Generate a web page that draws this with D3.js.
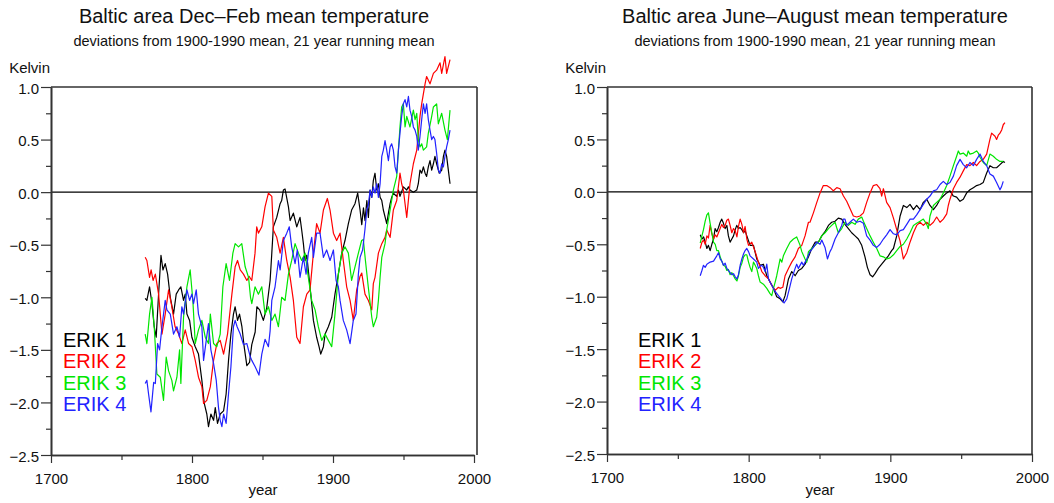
<!DOCTYPE html>
<html>
<head>
<meta charset="utf-8">
<script src="https://cdn.jsdelivr.net/npm/d3@7"></script>
<style>
  html, body { margin: 0; padding: 0; background: #fff; }
  svg { display: block; }
  text { font-family: "Liberation Sans", Arial, sans-serif; }
</style>
</head>
<body>
<svg id="chart" width="1054" height="503"></svg>
<script>
// ---------------- DATA ----------------
const seriesNames = ["ERIK 1", "ERIK 2", "ERIK 3", "ERIK 4"];
const xTickValues = [1700, 1800, 1900, 2000];
const xMinorTicks = [1750, 1850, 1950];
const yTickValues = [1.0, 0.5, 0.0, -0.5, -1.0, -1.5, -2.0, -2.5];
const yMinorTicks = [0.75, 0.25, -0.25, -0.75, -1.25, -1.75, -2.25];
const winterTitle = "Baltic area Dec\u2013Feb mean temperature";
const summerTitle = "Baltic area June\u2013August mean temperature";
const subTitle = "deviations from 1900-1990 mean, 21 year running mean";

// Winter (Dec–Feb), [year, deviation K]
const winterErik1 = [[1766.8,-1.01],[1768,-1.03],[1769.9,-0.90],[1771.6,-1.06],[1773.2,-1.28],[1774.6,-1.38],[1776.3,-0.97],[1778,-0.60],[1779.4,-0.74],[1781,-0.68],[1782.7,-0.78],[1784.6,-1.00],[1786.9,-1.16],[1788.8,-0.97],[1790.5,-0.93],[1792.1,-0.90],[1794,-1.03],[1795.2,-0.97],[1796.4,-1.16],[1798.3,-1.22],[1799.9,-1.38],[1802.3,-1.47],[1804.6,-1.54],[1807,-1.79],[1808.7,-2.01],[1810.5,-2.11],[1811.7,-2.23],[1813.4,-2.11],[1815.3,-2.17],[1816.5,-2.05],[1818.1,-2.20],[1820,-2.11],[1822.4,-2.08],[1824.2,-1.92],[1825.9,-1.60],[1827.6,-1.35],[1829.4,-1.16],[1830.6,-1.09],[1832.3,-1.22],[1833.7,-1.16],[1835.4,-1.28],[1837,-1.47],[1838.9,-1.65],[1840.8,-1.62],[1842.4,-1.45],[1844.8,-1.33],[1846,-1.09],[1848,-1.12],[1850.6,-1.22],[1853,-1.10],[1855.4,-0.84],[1856.6,-0.58],[1857.7,-0.33],[1860.1,-0.24],[1862.5,-0.11],[1863.6,-0.08],[1864.8,0.02],[1866,0.03],[1868.4,-0.14],[1869.6,-0.27],[1871.9,-0.20],[1874.3,-0.33],[1876.6,-0.24],[1877.8,-0.36],[1879,-0.49],[1880.2,-0.65],[1881.4,-0.60],[1883.7,-0.90],[1886.1,-1.22],[1888.4,-1.38],[1890.1,-1.47],[1891.3,-1.54],[1893.2,-1.47],[1894.4,-1.35],[1896.7,-1.28],[1899.1,-1.19],[1901.4,-0.97],[1903.8,-0.78],[1906.2,-0.58],[1908.5,-0.46],[1910.9,-0.30],[1913.2,-0.17],[1915.6,-0.11],[1917.5,-0.01],[1919.2,-0.17],[1920.4,-0.31],[1921.6,-0.15],[1922.7,-0.27],[1924,-0.08],[1925.1,-0.24],[1926.3,0.02],[1927.5,-0.05],[1928.6,0.11],[1929.8,0.18],[1931,0.02],[1932.2,0.08],[1933.4,-0.05],[1934.6,-0.08],[1935.7,-0.17],[1938.1,-0.30],[1939.3,-0.20],[1940.5,-0.11],[1941.6,-0.05],[1942.8,-0.01],[1945.2,-0.04],[1946.4,0.02],[1947.5,-0.04],[1949.9,0.05],[1952.3,0.02],[1953.5,0.05],[1954.6,0.02],[1957,0.00],[1959.4,0.02],[1960.5,0.08],[1961.7,0.21],[1962.9,0.18],[1964.1,0.24],[1965.3,0.18],[1966.4,0.15],[1967.6,0.24],[1968.8,0.30],[1970,0.21],[1971.2,0.27],[1972.3,0.34],[1973.5,0.27],[1975.4,0.18],[1977.1,0.21],[1978.3,0.34],[1979.4,0.40],[1980.6,0.34],[1981.8,0.21],[1983,0.08]];
const winterErik2 = [[1766.8,-0.62],[1768,-0.65],[1769.9,-0.81],[1771,-0.74],[1772.4,-0.84],[1774,-0.78],[1776.3,-0.97],[1778.7,-1.35],[1781,-1.16],[1783.4,-0.93],[1785.7,-1.09],[1788,-1.28],[1790.5,-1.35],[1792.8,-1.44],[1795.2,-1.31],[1797.6,-1.44],[1800,-1.47],[1802.3,-1.60],[1804.6,-1.76],[1807,-1.85],[1808.2,-2.01],[1810.5,-1.98],[1813,-1.85],[1815.3,-1.60],[1817.6,-1.44],[1820,-1.41],[1822.4,-1.54],[1825.2,-1.35],[1828.3,-0.97],[1830.6,-0.71],[1832.3,-0.65],[1834.2,-0.74],[1836.5,-0.78],[1838.9,-0.84],[1840.5,-0.80],[1842.4,-0.84],[1844.7,-0.58],[1845.9,-0.33],[1847.1,-0.39],[1849.5,-0.33],[1851.8,-0.14],[1854.2,-0.01],[1856.6,-0.04],[1857.7,-0.36],[1860.1,-0.43],[1862.5,-0.58],[1864.8,-0.43],[1867.2,-0.65],[1869.6,-0.81],[1871.9,-1.03],[1874.3,-1.38],[1876.6,-1.44],[1879,-1.09],[1881.4,-0.97],[1883.7,-0.93],[1886.1,-0.58],[1888.4,-0.30],[1890.8,-0.39],[1893.2,-0.17],[1896,-0.06],[1897.9,-0.17],[1900.3,-0.39],[1902.6,-0.46],[1905,-0.39],[1907.3,-0.65],[1909.7,-0.90],[1912.1,-1.03],[1914.4,-1.22],[1916.8,-0.93],[1919.2,-0.80],[1920.4,-0.77],[1922.7,-0.97],[1925.1,-1.03],[1927.5,-1.12],[1928.6,-0.87],[1929.8,-0.81],[1932.2,-0.58],[1934.6,-0.49],[1936.9,-0.43],[1938.1,-0.36],[1940.5,-0.43],[1942.8,-0.17],[1945.2,-0.08],[1947.5,0.18],[1948.7,0.08],[1949.9,0.02],[1952.3,-0.24],[1954.6,0.08],[1957,0.27],[1959.4,0.40],[1961.7,0.72],[1962.9,0.84],[1965.3,1.03],[1966.4,1.10],[1968.8,1.03],[1971.2,1.13],[1973.5,1.16],[1975.9,1.23],[1977.1,1.13],[1979.4,1.29],[1980.6,1.13],[1983,1.26]];
const winterErik3 = [[1766.8,-1.35],[1768,-1.44],[1769.9,-1.16],[1771.6,-1.00],[1773.2,-1.28],[1775.1,-1.73],[1777.5,-1.76],[1779.8,-1.98],[1781.7,-1.57],[1783.4,-1.70],[1785.7,-1.79],[1786.9,-1.89],[1789.3,-1.76],[1791.2,-1.50],[1792.1,-1.82],[1794,-1.19],[1796.4,-0.90],[1798.7,-0.74],[1800.6,-1.03],[1802.3,-1.44],[1804.6,-1.31],[1807,-1.22],[1809.4,-1.38],[1811.7,-1.44],[1813,-1.16],[1815.3,-1.44],[1817.6,-1.47],[1820,-1.35],[1821.9,-0.90],[1824.2,-0.68],[1826.6,-0.84],[1829,-0.58],[1830.6,-0.49],[1833,-0.52],[1835.3,-0.49],[1837.7,-0.71],[1840.1,-0.81],[1841.5,-1.00],[1842.4,-1.06],[1844.7,-0.90],[1847.1,-0.97],[1849.5,-0.90],[1851.8,-1.16],[1854.2,-1.09],[1856.6,-1.22],[1858.9,-1.16],[1861.3,-1.28],[1863.6,-1.00],[1866,-1.03],[1868.4,-0.78],[1870.7,-0.65],[1873.1,-0.49],[1875.5,-0.58],[1877.8,-0.65],[1880.2,-0.58],[1882.5,-0.81],[1884.9,-1.03],[1887.3,-1.12],[1889.6,-1.28],[1892,-1.41],[1894.4,-1.35],[1896.7,-1.41],[1899.1,-1.47],[1901.4,-1.16],[1903.8,-0.78],[1906.2,-0.58],[1908.5,-0.52],[1910.9,-0.58],[1913.2,-0.84],[1915.6,-0.71],[1918,-0.58],[1920.3,-0.46],[1921.5,-0.45],[1923,-0.65],[1925,-0.90],[1927.5,-1.19],[1928.6,-1.28],[1931,-1.19],[1932.2,-1.03],[1933.4,-0.81],[1934.6,-0.62],[1936.9,-0.49],[1938.1,-0.36],[1940.5,-0.17],[1942.8,0.02],[1945.2,0.15],[1946.4,0.40],[1947.5,0.62],[1948.7,0.81],[1949.9,0.84],[1951.1,0.62],[1952.3,0.72],[1954.6,0.62],[1957,0.78],[1958.2,0.69],[1959.4,0.75],[1960.5,0.50],[1961.7,0.43],[1962.9,0.46],[1964.1,0.40],[1966.4,0.43],[1967.6,0.56],[1970,0.72],[1971.2,0.81],[1973.5,0.84],[1974.7,0.65],[1977.1,0.75],[1979.4,0.59],[1981.1,0.50],[1983,0.78]];
const winterErik4 = [[1766.8,-1.82],[1768,-1.79],[1769.2,-1.92],[1770.9,-2.09],[1772.8,-1.81],[1774,-1.82],[1775.6,-1.44],[1777,-1.50],[1778.7,-1.28],[1781,-1.03],[1782.2,-1.12],[1784.6,-1.16],[1786.9,-1.35],[1789.3,-1.28],[1791.2,-1.38],[1792.8,-1.09],[1794,-1.16],[1796.4,-0.93],[1798.3,-1.03],[1799.9,-0.97],[1801.1,-1.06],[1803,-0.93],[1804.6,-1.16],[1807,-1.28],[1808.2,-1.60],[1810.1,-1.41],[1811.7,-1.25],[1813.4,-1.50],[1815.3,-1.63],[1817.2,-1.79],[1818.8,-2.05],[1820,-2.17],[1821.2,-2.23],[1822.4,-2.11],[1824.2,-2.20],[1825.9,-1.92],[1827.6,-1.66],[1829.4,-1.28],[1830.6,-1.22],[1832,-1.28],[1834.2,-1.35],[1836.5,-1.45],[1838.9,-1.44],[1841.2,-1.56],[1842.4,-1.60],[1844.8,-1.66],[1847.5,-1.74],[1849.5,-1.54],[1851.8,-1.40],[1854.2,-1.47],[1855.4,-1.32],[1856.6,-1.03],[1858.9,-0.90],[1861.3,-0.65],[1862.5,-0.74],[1864.8,-0.46],[1867.2,-0.39],[1869,-0.33],[1870.7,-0.52],[1873.1,-0.68],[1874.7,-0.55],[1876.6,-0.81],[1879,-0.62],[1880.9,-0.78],[1882.5,-0.58],[1884.9,-0.43],[1886.1,-0.62],[1888.4,-0.39],[1890.8,-0.39],[1893.2,-0.62],[1895.5,-0.55],[1897.9,-0.65],[1900.3,-0.55],[1902.2,-0.84],[1903.8,-0.90],[1905,-1.03],[1907.3,-1.22],[1909.7,-1.31],[1912.1,-1.44],[1914.4,-1.22],[1916.3,-1.16],[1918,-0.78],[1919.2,-0.62],[1921,-0.55],[1922.7,-0.35],[1924,-0.17],[1925.1,-0.12],[1926.3,0.02],[1927.5,-0.05],[1928.6,0.05],[1929.8,-0.01],[1931,0.08],[1932.2,-0.05],[1933.4,0.08],[1934.6,0.34],[1935.7,0.40],[1936.9,0.49],[1938.1,0.40],[1939.3,0.30],[1940.5,0.43],[1941.6,0.46],[1942.8,0.40],[1944,0.24],[1945.2,0.18],[1946.4,0.40],[1947.5,0.56],[1948.7,0.72],[1949.9,0.84],[1951.1,0.88],[1952.3,0.81],[1953.5,0.91],[1954.6,0.78],[1955.8,0.72],[1957,0.62],[1958.2,0.59],[1959.4,0.53],[1960.5,0.40],[1961.7,0.53],[1962.9,0.69],[1964.1,0.84],[1965.3,0.75],[1966.4,0.84],[1967.6,0.69],[1968.8,0.59],[1970,0.50],[1971.2,0.53],[1972.3,0.50],[1973.5,0.37],[1974.7,0.21],[1975.9,0.18],[1977.1,0.27],[1978.3,0.24],[1979.4,0.34],[1980.6,0.43],[1981.8,0.50],[1983,0.59]];

// Summer (June–August), [year, deviation K]
const summerErik1 = [[1765.8,-0.41],[1767,-0.45],[1768.2,-0.43],[1769.3,-0.48],[1770.5,-0.54],[1771.6,-0.51],[1772.8,-0.56],[1774,-0.50],[1775.2,-0.45],[1776.3,-0.35],[1777.5,-0.38],[1778.7,-0.34],[1779.9,-0.29],[1781,-0.26],[1782.2,-0.30],[1783.4,-0.35],[1784.6,-0.32],[1785.7,-0.42],[1786.9,-0.48],[1788.1,-0.45],[1789.3,-0.42],[1790.5,-0.36],[1791.6,-0.32],[1792.8,-0.35],[1794,-0.34],[1795.2,-0.36],[1796.4,-0.39],[1797.5,-0.37],[1798.7,-0.42],[1801,-0.51],[1803.4,-0.51],[1805.7,-0.64],[1808.1,-0.70],[1810.4,-0.69],[1812.8,-0.80],[1815.1,-0.86],[1817.5,-0.92],[1819.8,-1.00],[1822.2,-1.02],[1824.1,-1.05],[1825.7,-0.99],[1828.1,-0.83],[1830.4,-0.76],[1832.8,-0.80],[1835.1,-0.75],[1837.5,-0.73],[1839.8,-0.69],[1842.2,-0.62],[1844.5,-0.54],[1846.9,-0.48],[1849.2,-0.48],[1851.6,-0.42],[1853.9,-0.38],[1856.3,-0.32],[1858.6,-0.29],[1861,-0.28],[1863.3,-0.25],[1865.7,-0.26],[1868,-0.31],[1870.4,-0.35],[1872.7,-0.39],[1875.1,-0.42],[1877.4,-0.45],[1879.8,-0.51],[1882.1,-0.62],[1883.8,-0.72],[1885.7,-0.79],[1887.5,-0.81],[1889.2,-0.78],[1891.5,-0.73],[1893.9,-0.69],[1896.2,-0.65],[1898.6,-0.61],[1900.9,-0.56],[1902.2,-0.54],[1904.5,-0.42],[1906.9,-0.23],[1909.2,-0.13],[1911.6,-0.15],[1913.9,-0.12],[1916.3,-0.17],[1918.6,-0.13],[1921,-0.17],[1923.3,-0.10],[1925.7,-0.07],[1928,-0.13],[1930.4,-0.17],[1932.7,-0.13],[1935.1,-0.07],[1937.4,-0.04],[1939.8,-0.01],[1942.1,0.01],[1944.5,-0.04],[1946.8,-0.05],[1949.2,-0.09],[1951.5,-0.07],[1953.9,-0.01],[1956.2,0.02],[1958.6,0.04],[1960.9,0.06],[1963.3,0.07],[1965.6,0.09],[1968,0.18],[1970.3,0.25],[1972.7,0.23],[1975,0.23],[1977.4,0.26],[1979.7,0.29],[1980.9,0.28]];
const summerErik2 = [[1765.8,-0.54],[1767,-0.48],[1768.1,-0.46],[1769.3,-0.50],[1770.5,-0.42],[1771.6,-0.44],[1772.8,-0.32],[1774,-0.40],[1775.2,-0.45],[1776.3,-0.41],[1777.5,-0.43],[1778.7,-0.39],[1781,-0.31],[1782.2,-0.34],[1783.4,-0.32],[1784.6,-0.27],[1785.7,-0.26],[1786.9,-0.32],[1788.1,-0.39],[1789.3,-0.35],[1790.5,-0.37],[1791.7,-0.43],[1792.8,-0.33],[1794,-0.26],[1795.2,-0.31],[1796.4,-0.39],[1797.5,-0.33],[1798.7,-0.45],[1799.9,-0.51],[1802.2,-0.48],[1804.6,-0.57],[1806.9,-0.67],[1809.3,-0.76],[1811.6,-0.80],[1814,-0.83],[1816.3,-0.89],[1818.7,-0.94],[1821,-0.91],[1822.2,-0.92],[1824.1,-0.91],[1825.7,-0.80],[1828.1,-0.73],[1830.4,-0.67],[1832.8,-0.62],[1835.1,-0.54],[1837.5,-0.51],[1839.8,-0.42],[1842.2,-0.29],[1843.3,-0.29],[1845.7,-0.20],[1848.1,-0.10],[1850.4,-0.01],[1852.7,0.06],[1855.1,0.06],[1857.5,0.04],[1859.8,0.01],[1862.2,0.04],[1864.5,0.03],[1866.9,-0.04],[1869.2,-0.09],[1871.6,-0.16],[1873.9,-0.23],[1876.3,-0.24],[1878.6,-0.23],[1881,-0.20],[1883.3,-0.10],[1885.7,-0.01],[1888,0.06],[1890.4,0.07],[1892.7,0.03],[1893.9,-0.04],[1895.1,0.03],[1897.4,-0.10],[1899.8,-0.15],[1902.2,-0.25],[1904.5,-0.36],[1906.9,-0.47],[1909.2,-0.64],[1910.4,-0.61],[1911.6,-0.58],[1913.9,-0.48],[1916.3,-0.39],[1918.6,-0.32],[1921,-0.29],[1923.3,-0.32],[1925.7,-0.29],[1928,-0.32],[1930.4,-0.29],[1932.7,-0.24],[1935.1,-0.29],[1937.4,-0.26],[1939.8,-0.21],[1940.9,-0.13],[1942.1,-0.07],[1944.5,0.03],[1946.8,0.09],[1949.2,0.14],[1951.5,0.20],[1953.9,0.26],[1956.2,0.25],[1958.6,0.28],[1960.9,0.25],[1963.3,0.29],[1965.6,0.31],[1968,0.36],[1970.3,0.50],[1971.5,0.56],[1973.9,0.53],[1975,0.50],[1976.2,0.54],[1977.4,0.56],[1978.6,0.59],[1979.7,0.64],[1980.9,0.66]];
const summerErik3 = [[1765.8,-0.49],[1767,-0.42],[1768.1,-0.36],[1769.3,-0.28],[1770.5,-0.22],[1771.6,-0.20],[1772.8,-0.30],[1774,-0.39],[1775.2,-0.48],[1776.4,-0.50],[1777.5,-0.56],[1778.7,-0.56],[1779.9,-0.62],[1781,-0.66],[1782.2,-0.70],[1783.4,-0.71],[1784.6,-0.75],[1785.7,-0.74],[1786.9,-0.79],[1788.1,-0.77],[1789.3,-0.80],[1790.5,-0.83],[1791.7,-0.85],[1792.8,-0.80],[1794,-0.72],[1795.2,-0.68],[1796.4,-0.62],[1797.5,-0.60],[1798.7,-0.60],[1799.9,-0.67],[1801,-0.72],[1802.2,-0.76],[1803.4,-0.67],[1804.6,-0.70],[1805.7,-0.73],[1806.9,-0.80],[1808.1,-0.86],[1810.4,-0.88],[1812.8,-0.92],[1815.1,-0.97],[1816.3,-0.99],[1817.5,-0.92],[1818.7,-0.86],[1819.8,-0.80],[1821,-0.72],[1822.2,-0.64],[1823.4,-0.67],[1824.5,-0.61],[1826.9,-0.54],[1829.2,-0.48],[1831.6,-0.45],[1833.9,-0.43],[1835.1,-0.47],[1836.3,-0.51],[1837.5,-0.57],[1839.8,-0.64],[1841,-0.67],[1842.2,-0.57],[1844.5,-0.54],[1846.9,-0.51],[1849.2,-0.48],[1851.6,-0.42],[1853.9,-0.39],[1856.3,-0.35],[1858.6,-0.32],[1861,-0.29],[1862.1,-0.34],[1863.3,-0.39],[1865.7,-0.35],[1868,-0.29],[1870.4,-0.32],[1872.7,-0.29],[1875.1,-0.31],[1877.4,-0.26],[1879.8,-0.24],[1881,-0.28],[1883.3,-0.35],[1885.7,-0.42],[1888,-0.48],[1890.4,-0.54],[1892.7,-0.61],[1895.1,-0.62],[1897.4,-0.64],[1899.8,-0.63],[1902.2,-0.60],[1904.5,-0.56],[1906.9,-0.52],[1909.2,-0.50],[1911.6,-0.45],[1913.9,-0.39],[1916.3,-0.32],[1918.6,-0.30],[1921,-0.28],[1923.3,-0.26],[1925.7,-0.31],[1926.8,-0.35],[1928,-0.23],[1930.4,-0.13],[1932.7,-0.10],[1935.1,-0.07],[1937.4,-0.01],[1939.8,0.06],[1942.1,0.15],[1944.5,0.25],[1946.8,0.34],[1948,0.39],[1949.2,0.36],[1951.5,0.37],[1953.9,0.34],[1955,0.39],[1956.2,0.36],[1958.6,0.37],[1960.9,0.39],[1962.1,0.37],[1963.3,0.33],[1965.6,0.28],[1968,0.25],[1970.3,0.36],[1972.7,0.34],[1975,0.31],[1977.4,0.29],[1979.7,0.29]];
const summerErik4 = [[1765.8,-0.80],[1767,-0.75],[1768.1,-0.70],[1769.3,-0.72],[1770.5,-0.69],[1772.8,-0.67],[1775.2,-0.66],[1777.5,-0.61],[1778.7,-0.58],[1779.9,-0.64],[1781,-0.66],[1782.2,-0.70],[1783.4,-0.68],[1784.6,-0.73],[1786.9,-0.77],[1788.1,-0.79],[1789.3,-0.78],[1790.5,-0.81],[1791.7,-0.83],[1792.8,-0.79],[1794,-0.70],[1795.2,-0.64],[1796.4,-0.59],[1797.5,-0.56],[1798.7,-0.54],[1799.9,-0.57],[1801,-0.61],[1803.4,-0.64],[1805.7,-0.67],[1806.9,-0.73],[1808.1,-0.71],[1809.3,-0.70],[1810.4,-0.72],[1811.6,-0.76],[1812.8,-0.69],[1814,-0.83],[1815.1,-0.86],[1816.3,-0.89],[1818.7,-0.95],[1821,-0.99],[1823.4,-1.03],[1825,-1.06],[1826.9,-1.02],[1828.8,-0.92],[1830.4,-0.83],[1832.8,-0.73],[1833.9,-0.69],[1835.1,-0.73],[1837.5,-0.67],[1838.6,-0.70],[1841,-0.64],[1843.3,-0.57],[1845.7,-0.53],[1848.1,-0.48],[1850.4,-0.50],[1851.6,-0.46],[1853.9,-0.53],[1855.6,-0.64],[1857.4,-0.57],[1858.6,-0.54],[1861,-0.45],[1863.3,-0.39],[1865.7,-0.32],[1866.8,-0.26],[1868,-0.26],[1869.2,-0.32],[1871.5,-0.29],[1873.9,-0.26],[1876.3,-0.29],[1878.6,-0.28],[1881,-0.30],[1883.3,-0.42],[1885.7,-0.46],[1888,-0.51],[1890.4,-0.53],[1892.7,-0.50],[1895.1,-0.45],[1897.4,-0.41],[1899.8,-0.36],[1902.2,-0.40],[1904.5,-0.41],[1906.9,-0.37],[1909.2,-0.36],[1911.6,-0.31],[1913.9,-0.26],[1916.3,-0.26],[1918.6,-0.22],[1921,-0.17],[1923.3,-0.12],[1925.7,-0.07],[1928,-0.04],[1930.4,0.01],[1932.7,0.02],[1935.1,0.07],[1937.4,0.10],[1939.8,0.07],[1942.1,0.09],[1944.5,0.15],[1946.8,0.25],[1949.2,0.31],[1951.5,0.26],[1953.9,0.23],[1956.2,0.28],[1958.6,0.25],[1960.9,0.31],[1963.3,0.36],[1965.6,0.29],[1968,0.25],[1970.3,0.17],[1972.7,0.15],[1975,0.09],[1977.4,0.02],[1978.5,0.05],[1979.7,0.10]];

// ---------------- STYLE ----------------
const seriesColors = ["#000000", "#ff0000", "#00e600", "#2222ff"];
const axisColor = "#333";
const FONT = '"Liberation Sans", Arial, sans-serif';

const svg = d3.select("#chart");

function drawPanel(cfg) {
  const x = d3.scaleLinear().domain([1700, 2000]).range([cfg.x0, cfg.x1]);
  const y = d3.scaleLinear().domain([-2.5, 1.0]).range([cfg.yb, cfg.yt]);
  const g = svg.append("g");

  // Titles
  g.append("text").attr("x", cfg.titleX).attr("y", 23).attr("text-anchor", "middle")
    .attr("font-size", 20).attr("fill", "#111").text(cfg.title);
  g.append("text").attr("x", cfg.titleX).attr("y", 46).attr("text-anchor", "middle")
    .attr("font-size", 14.5).attr("fill", "#111").text(subTitle);
  g.append("text").attr("x", cfg.x0 - 1).attr("y", 73).attr("text-anchor", "end")
    .attr("font-size", 15).attr("fill", "#111").text("Kelvin");

  // Frame top and right
  g.append("line").attr("x1", cfg.x0).attr("x2", cfg.frameRight)
    .attr("y1", y(1.0)).attr("y2", y(1.0))
    .attr("stroke", axisColor).attr("stroke-width", 1.6);
  g.append("line").attr("x1", cfg.frameRight).attr("x2", cfg.frameRight)
    .attr("y1", y(1.0)).attr("y2", y(-2.5))
    .attr("stroke", axisColor).attr("stroke-width", 1.6);

  // Zero line
  g.append("line").attr("x1", cfg.x0).attr("x2", cfg.frameRight)
    .attr("y1", y(0)).attr("y2", y(0))
    .attr("stroke", "#000").attr("stroke-width", 1.2);

  // Axes
  const fmtY = d3.format(".1f");
  const yAx = g.append("g").attr("transform", `translate(${cfg.x0},0)`)
    .call(d3.axisLeft(y).tickValues(yTickValues).tickSize(10).tickSizeOuter(0)
      .tickPadding(2).tickFormat(fmtY));
  const yMin = g.append("g").attr("transform", `translate(${cfg.x0},0)`)
    .call(d3.axisLeft(y).tickValues(yMinorTicks).tickSize(5).tickSizeOuter(0).tickFormat(""));
  const xAx = g.append("g").attr("transform", `translate(0,${cfg.yb})`)
    .call(d3.axisBottom(x).tickValues(xTickValues).tickSize(8).tickSizeOuter(0)
      .tickPadding(10).tickFormat(d3.format("d")));
  const xMin = g.append("g").attr("transform", `translate(0,${cfg.yb})`)
    .call(d3.axisBottom(x).tickValues(xMinorTicks).tickSize(5).tickSizeOuter(0).tickFormat(""));
  [yAx, yMin, xAx, xMin].forEach(a => {
    a.select(".domain").attr("stroke", axisColor).attr("stroke-width", 1.6);
    a.selectAll(".tick line").attr("stroke", axisColor).attr("stroke-width", 1.2);
    a.selectAll(".tick text").attr("font-family", FONT).attr("font-size", 15).attr("fill", "#111");
  });
  yAx.selectAll(".tick text").attr("dy", "0.4em");

  g.append("text").attr("x", cfg.yearX).attr("y", 495).attr("text-anchor", "middle")
    .attr("font-size", 15).attr("fill", "#111").text("year");

  // Lines
  const line = d3.line().x(d => x(d[0])).y(d => y(d[1]));
  cfg.series.forEach((s, i) => {
    g.append("path").datum(s).attr("d", line).attr("fill", "none")
      .attr("stroke", seriesColors[i]).attr("stroke-width", 1.2)
      .attr("stroke-linejoin", "round");
  });

  // Legend
  seriesNames.forEach((name, i) => {
    g.append("text").attr("x", cfg.legendX).attr("y", 347 + i * 21.4)
      .attr("font-size", 20).attr("fill", seriesColors[i]).text(name);
  });
}

drawPanel({
  x0: 51, x1: 474, frameRight: 477, yt: 87, yb: 455,
  titleX: 254, yearX: 263, legendX: 63, title: winterTitle,
  series: [winterErik1, winterErik2, winterErik3, winterErik4]
});
drawPanel({
  x0: 607, x1: 1032, frameRight: 1032, yt: 87, yb: 454,
  titleX: 815, yearX: 820, legendX: 638, title: summerTitle,
  series: [summerErik1, summerErik2, summerErik3, summerErik4]
});
</script>
</body>
</html>
